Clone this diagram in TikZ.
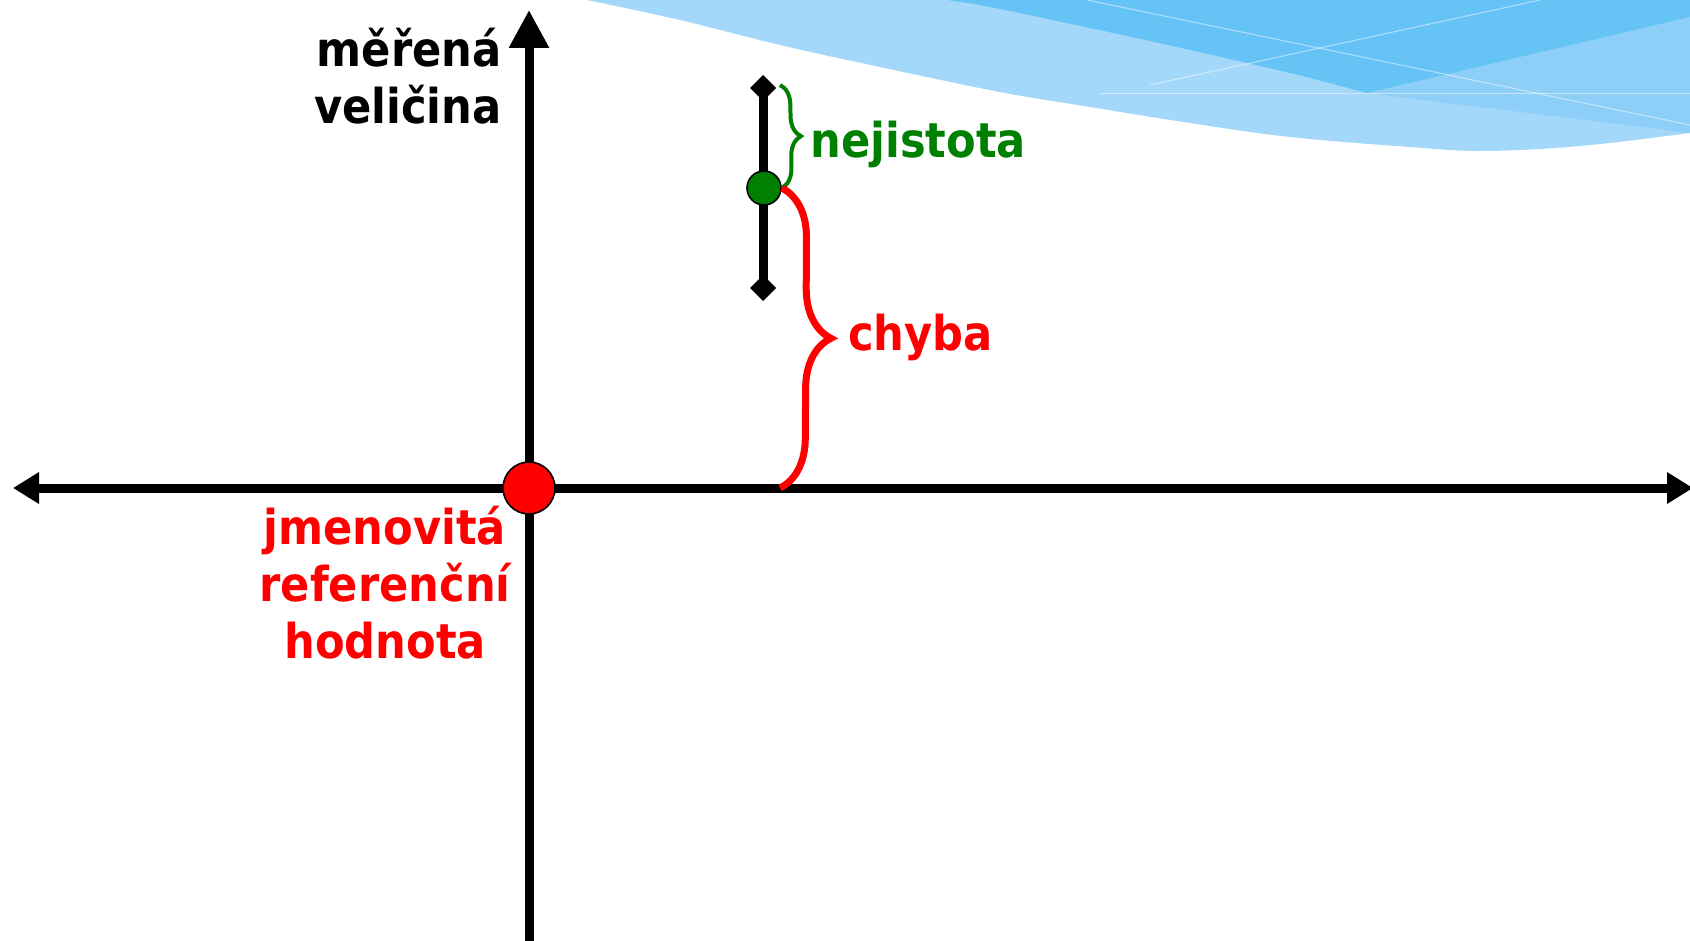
\documentclass[tikz,border=0pt]{standalone}
\usepackage{fontspec}
\setmainfont{DejaVu Sans Condensed}
\usepackage{tikz}
\usetikzlibrary{arrows.meta,decorations.pathreplacing}
\usepackage{xcolor}
\definecolor{mvred}{RGB}{255,0,0}
\definecolor{mvgreen}{RGB}{0,128,0}
\definecolor{wavelight}{RGB}{163,216,250}
\definecolor{wavemid}{RGB}{142,207,248}
\definecolor{wavedark}{RGB}{102,195,246}
\tikzstyle{axisline} = [line width=4.5pt, black]
\tikzstyle{axtext} = [font=\fontsize{24}{28.5}\selectfont\bfseries, inner sep=0pt]
\tikzstyle{dot} = [circle, draw=black, line width=0.8pt, inner sep=0pt]
\tikzstyle{curly} = [decorate, decoration={brace, amplitude=10pt}]

\begin{document}
\begin{tikzpicture}[x=0.5pt, y=-0.5pt]
\useasboundingbox (0,0) rectangle (1690,941);
% wave in the corner
\fill[wavelight] plot[smooth, tension=0.6] coordinates {(587,0) (680,20) (780,45) (880,67) (1000,92) (1090,107) (1190,123) (1290,137) (1410,147) (1483,151) (1580,146) (1690,133)} -- (1690,0) -- cycle;
\fill[wavemid] (1367,93) -- (1690,17) -- (1690,133) -- cycle;
\fill[wavedark] plot[smooth, tension=0.6] coordinates {(947,0) (990,7) (1090,28) (1190,50) (1290,73) (1367,93)} -- (1690,17) -- (1690,0) -- cycle;
\draw[white, opacity=0.5, line width=0.5pt] (1087,0) -- (1690,125);
\draw[white, opacity=0.5, line width=0.5pt] (1540,0) -- (1150,85);
\draw[white, opacity=0.5, line width=0.5pt] (1100,94) -- (1690,94);

% axes
\coordinate (xl) at (13,488);
\coordinate (xr) at (1693,488);
\coordinate (yb) at (529,945);
\coordinate (yt) at (529,10);
\draw[axisline, {Triangle[length=13pt,width=15pt]}-{Triangle[length=13pt,width=15pt]}] (xl) -- (xr);
\draw[axisline, -{Triangle[length=19pt,width=19pt]}] (yb) -- (yt);

% measured value with its uncertainty
\coordinate (ut) at (763,75);
\coordinate (ub) at (763,301);
\draw[line width=4.5pt, {Diamond[length=13pt,width=13pt]}-{Diamond[length=13pt,width=13pt]}] (ut) -- (ub);
\node (meas) [dot, fill=mvgreen, minimum size=17pt] at (764,188) {};
\coordinate (nt) at (780,85);
\coordinate (ch) at (780,488);
\draw[mvgreen, line width=2pt, curly] (nt) -- (meas.east);
\draw[mvred, line width=3.5pt, curly, decoration={amplitude=25pt}] (meas.east) -- (ch);
\node (ref) [dot, fill=mvred, minimum size=26pt] at (529,488) {};

% texts
\node (nej) [axtext, mvgreen, anchor=base west] at (810,158) {nejistota};
\node (chy) [axtext, mvred, anchor=base west] at (848,350) {chyba};
\node (mer) [axtext, align=right, anchor=base east] at (502,124) {měřená\\veličina};
\node (jmen) [axtext, mvred, align=center, anchor=base] at (385,658) {jmenovitá\\referenční\\hodnota};
\end{tikzpicture}
\end{document}
